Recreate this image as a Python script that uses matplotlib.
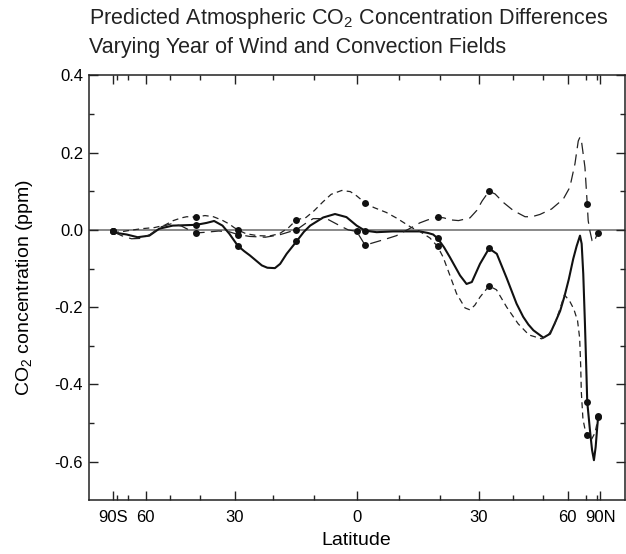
import matplotlib
matplotlib.use("Agg")
import numpy as np
import matplotlib.pyplot as plt

plt.rcParams['font.family'] = ['Liberation Sans', 'DejaVu Sans']
plt.rcParams['mathtext.fontset'] = 'custom'
plt.rcParams['mathtext.rm'] = 'Liberation Sans'
plt.rcParams['mathtext.it'] = 'Liberation Sans:italic'
plt.rcParams['mathtext.bf'] = 'Liberation Sans:bold'

# ---------------- data (latitude in degrees, CO2 difference in ppm) ----------------
solid_lat = [-90, -80, -70.7, -64, -58.3, -54.1, -49, -45, -41.2, -38, -35.8, -33.4, -31.5,
             -29.2, -27.5, -26, -22.9, -21.5, -19.6, -18.3, -16.7, -14.3, -12.5, -11, -7.9,
             -5.1, -2.4, 0, 1.95, 4.7, 8.6, 12, 15, 17, 18.3, 19.4, 21, 22.5, 25.1, 26.8,
             28.2, 30.4, 32.9, 35.1, 38, 41, 43.1, 44.8, 46.5, 50, 52.5, 54.5, 56.6, 58.5,
             60.5, 62.7, 64.5, 66.4, 67.4, 68.4, 69.5, 70.6, 71.1, 73.2, 75, 76.8, 78.7,
             80.8, 82.4]
solid_val = [-0.004, -0.008, -0.012, -0.019, -0.015, 0.003, 0.011, 0.012, 0.013, 0.018, 0.023,
             0.011, -0.010, -0.041, -0.055, -0.066, -0.092, -0.098, -0.099, -0.088, -0.062,
             -0.030, -0.005, 0.011, 0.032, 0.041, 0.033, 0.011, -0.002, -0.006, -0.004,
             -0.004, -0.004, -0.008, -0.012, -0.022, -0.045, -0.071, -0.118, -0.140, -0.135,
             -0.088, -0.048, -0.062, -0.125, -0.191, -0.225, -0.245, -0.260, -0.279, -0.269,
             -0.240, -0.210, -0.172, -0.128, -0.075, -0.042, -0.015, -0.036, -0.114, -0.243,
             -0.381, -0.445, -0.519, -0.570, -0.596, -0.562, -0.510, -0.482]

short_lat = [-90, -82, -75, -68, -62, -56, -52, -48.8, -46, -44.2, -41.2, -38.5, -36, -33.5,
             -31.5, -30.2, -29.2, -27, -24, -21, -18.5, -16.3, -14.3, -12, -10, -8, -6, -3.5,
             -1.5, 0, 1.95, 4, 7, 9.5, 13, 15, 17.5, 19.4, 20.8, 22.5, 24.2, 26.4, 27.7, 29,
             30.4, 32.9, 35, 38, 41.5, 45, 49.4, 52, 54, 56.5, 58.5, 61, 63, 65, 66.2, 66.8,
             67.2, 68.2, 69.5, 71.1, 74, 78, 82.4]
short_val = [-0.004, -0.006, -0.005, -0.001, 0.003, 0.006, 0.012, 0.024, 0.031, 0.034, 0.033,
             0.037, 0.034, 0.025, 0.015, 0.006, 0.000, -0.010, -0.015, -0.016, -0.010, 0.005,
             0.026, 0.032, 0.050, 0.072, 0.092, 0.102, 0.099, 0.088, 0.070, 0.058, 0.045,
             0.030, 0.006, -0.004, -0.021, -0.043, -0.071, -0.118, -0.165, -0.202, -0.207,
             -0.195, -0.174, -0.145, -0.155, -0.200, -0.243, -0.272, -0.282, -0.270, -0.250,
             -0.205, -0.168, -0.185, -0.205, -0.235, -0.280, -0.350, -0.420, -0.490, -0.515,
             -0.530, -0.545, -0.525, -0.485]

long_lat = [-90, -80, -74.7, -67.5, -62, -58, -53.8, -49.4, -46, -43.5, -41.2, -38, -34.5,
            -31.5, -29.2, -26, -22, -18.5, -16, -14.3, -12.2, -10.3, -7.1, -4, -2, 0, 1.95,
            3.1, 7.1, 9.4, 13, 15, 17, 19.4, 21, 22.5, 24.7, 27.7, 29.5, 31, 32.9, 34.6, 37,
            40, 43.7, 46, 48.8, 53.1, 58, 61, 63.6, 65.4, 66.4, 67.4, 69.5, 71.1, 71.8, 73.1,
            75, 77.2, 79, 82.4]
long_val = [-0.004, -0.009, -0.015, -0.023, -0.022, -0.012, 0.007, 0.016, 0.010, 0.000,
            -0.008, -0.006, -0.003, -0.005, -0.012, -0.017, -0.019, -0.013, -0.005, 0.000,
            0.016, 0.029, 0.029, 0.011, 0.000, -0.004, -0.039, -0.036, -0.023, -0.015, 0.006,
            0.018, 0.026, 0.033, 0.031, 0.026, 0.024, 0.031, 0.050, 0.075, 0.100, 0.093,
            0.071, 0.050, 0.034, 0.034, 0.040, 0.054, 0.080, 0.110, 0.171, 0.230, 0.240,
            0.226, 0.162, 0.067, 0.024, -0.002, -0.028, -0.032, -0.019, -0.009]

# station markers on each curve
solid_st_lat = [-90, -41.2, -29.2, -14.3, 1.95, 19.4, 32.9, 71.1, 82.4]
solid_st_val = [-0.004, 0.013, -0.041, -0.030, -0.002, -0.022, -0.048, -0.445, -0.482]
short_st_lat = [-90, -41.2, -29.2, -14.3, 1.95, 19.4, 32.9, 71.1, 82.4]
short_st_val = [-0.004, 0.033, 0.000, 0.026, 0.070, -0.043, -0.145, -0.530, -0.485]
long_st_lat = [-90, -41.2, -29.2, -14.3, 0.0, 1.95, 19.4, 32.9, 71.1, 82.4]
long_st_val = [-0.004, -0.008, -0.012, 0.000, -0.004, -0.039, 0.033, 0.100, 0.067, -0.009]

major_lats = [-90, -60, -30, 0, 30, 60, 90]
major_labels = ['90S', '60', '30', '0', '30', '60', '90N']
minor_lats = [-80, -70, -50, -40, -20, -10, 10, 20, 40, 50, 70, 80]
y_major = [0.4, 0.2, 0.0, -0.2, -0.4, -0.6]
y_labels = ['0.4', '0.2', '0.0', '-0.2', '-0.4', '-0.6']
y_minor = [0.3, 0.1, -0.1, -0.3, -0.5]


def sx(lat):
    return np.sin(np.radians(np.asarray(lat, dtype=float)))


fig = plt.figure(figsize=(6.26, 5.54), dpi=100)
ax = fig.add_axes([0.1415, 0.0968, 0.8565, 0.7673])

ax.axhline(0, color='#808080', lw=1.3, zorder=1)
ax.plot(sx(solid_lat), solid_val, color='#111111', lw=1.5, zorder=3)
ax.plot(sx(short_lat), short_val, color='#222222', lw=0.9, linestyle=(0, (4.8, 3.4)), zorder=3)
ax.plot(sx(long_lat), long_val, color='#222222', lw=0.9, linestyle=(0, (9.0, 5.0)), zorder=3)
for la, va in [(solid_st_lat, solid_st_val), (short_st_lat, short_st_val), (long_st_lat, long_st_val)]:
    ax.plot(sx(la), va, 'o', color='#111111', ms=5, mec='none', zorder=5)

ax.set_xlim(-1.1, 1.1)
ax.set_ylim(-0.7, 0.4)
ax.set_xticks(sx(major_lats))
ax.set_xticklabels(major_labels)
ax.set_xticks(sx(minor_lats), minor=True)
ax.set_yticks(y_major)
ax.set_yticklabels(y_labels)
ax.set_yticks(y_minor, minor=True)

ax.tick_params(which='both', direction='in', top=True, right=True, width=1.0, color='#222222')
ax.tick_params(which='major', length=6.5, labelsize=12)
ax.tick_params(axis='x', which='major', pad=7)
ax.tick_params(axis='y', which='major', pad=4)
ax.tick_params(which='minor', length=3.5)
for s in ax.spines.values():
    s.set_linewidth(1.1)
    s.set_color('#222222')

ax.set_xlabel('Latitude', fontsize=14)
ax.xaxis.set_label_coords(0.5, -0.075)
ax.set_ylabel(r'CO$_\mathregular{2}$ concentration (ppm)', fontsize=14)
ax.yaxis.set_label_coords(-0.100, 0.5)

fig.text(0.1415, 1 - 24 / 554, r'Predicted Atmospheric CO$_\mathregular{2}$ Concentration Differences',
         fontsize=15.5, ha='left', va='baseline', color='#222222')
fig.text(0.1415, 1 - 53 / 554, 'Varying Year of Wind and Convection Fields',
         fontsize=15.5, ha='left', va='baseline', color='#222222')

fig.savefig('out.png', dpi=100)
